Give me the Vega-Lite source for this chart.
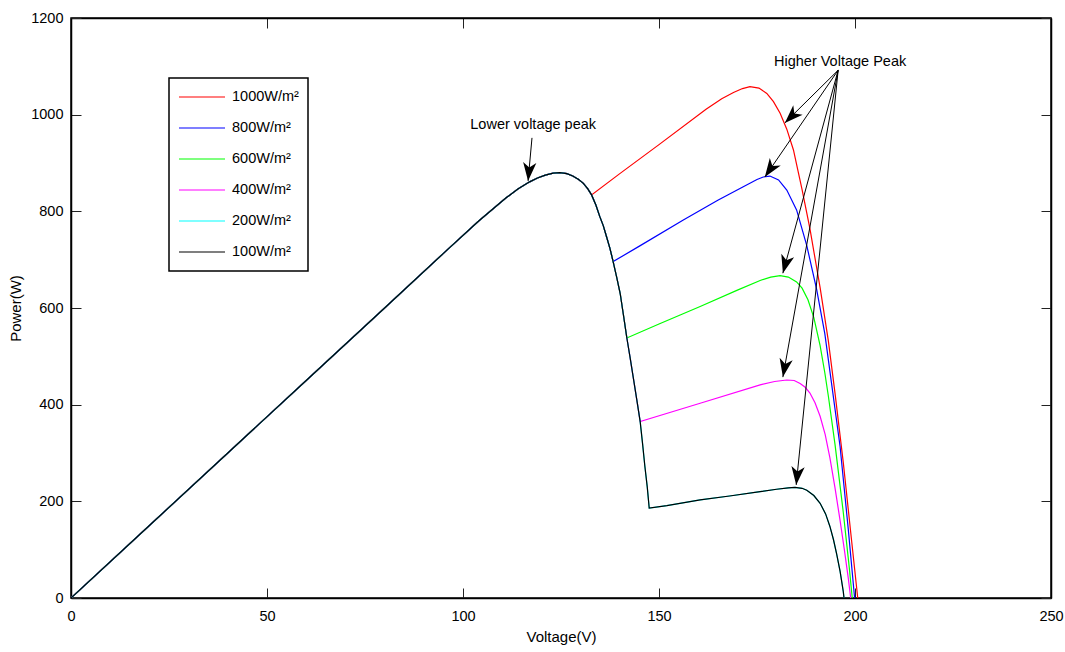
{
  "$schema": "https://vega.github.io/schema/vega-lite/v6.json",
  "width": 980,
  "height": 580,
  "autosize": {"type": "none"},
  "padding": {"left": 71, "top": 18, "right": 14, "bottom": 54},
  "background": "white",
  "config": {
    "font": "Liberation Sans",
    "view": {"stroke": "black", "strokeWidth": 1.5},
    "axis": {
      "grid": false,
      "domainColor": "black",
      "domainWidth": 1.5,
      "tickColor": "#222222",
      "tickWidth": 1,
      "tickSize": -10,
      "labelFontSize": 14.5,
      "labelColor": "black",
      "labelFlush": false,
      "titleFontSize": 15,
      "titleFontWeight": "normal",
      "titleColor": "black"
    },
    "legend": {"strokeWidth": 1.5}
  },
  "datasets": {
    "curves": [
      {"s":"1000W/m²","v":0,"p":0},{"s":"1000W/m²","v":20,"p":150},{"s":"1000W/m²","v":40,"p":300},{"s":"1000W/m²","v":60,"p":450},{"s":"1000W/m²","v":80,"p":600},{"s":"1000W/m²","v":95,"p":713},{"s":"1000W/m²","v":104,"p":780},{"s":"1000W/m²","v":111,"p":828},{"s":"1000W/m²","v":114,"p":846},{"s":"1000W/m²","v":117,"p":861},{"s":"1000W/m²","v":119,"p":869},{"s":"1000W/m²","v":121,"p":875},{"s":"1000W/m²","v":123,"p":879},{"s":"1000W/m²","v":124.7,"p":880},{"s":"1000W/m²","v":126.5,"p":878},{"s":"1000W/m²","v":128,"p":873},{"s":"1000W/m²","v":129.5,"p":866},{"s":"1000W/m²","v":130.7,"p":858},{"s":"1000W/m²","v":131.8,"p":847},{"s":"1000W/m²","v":132.8,"p":834},
      {"s":"1000W/m²","v":140,"p":878},{"s":"1000W/m²","v":150,"p":938},{"s":"1000W/m²","v":162,"p":1011},{"s":"1000W/m²","v":166,"p":1033},{"s":"1000W/m²","v":169,"p":1046},{"s":"1000W/m²","v":171.3,"p":1054},{"s":"1000W/m²","v":173.2,"p":1058},{"s":"1000W/m²","v":175.5,"p":1055},{"s":"1000W/m²","v":177.5,"p":1044},{"s":"1000W/m²","v":179.2,"p":1027},{"s":"1000W/m²","v":180.9,"p":1003},{"s":"1000W/m²","v":182.6,"p":970},{"s":"1000W/m²","v":184.3,"p":927},{"s":"1000W/m²","v":185.5,"p":882},{"s":"1000W/m²","v":186.5,"p":845},{"s":"1000W/m²","v":188.5,"p":764},{"s":"1000W/m²","v":191.1,"p":642},{"s":"1000W/m²","v":193.2,"p":532},{"s":"1000W/m²","v":194.9,"p":424},{"s":"1000W/m²","v":197,"p":281},{"s":"1000W/m²","v":199.1,"p":121},{"s":"1000W/m²","v":200.7,"p":0},

      {"s":"800W/m²","v":0,"p":0},{"s":"800W/m²","v":20,"p":150},{"s":"800W/m²","v":40,"p":300},{"s":"800W/m²","v":60,"p":450},{"s":"800W/m²","v":80,"p":600},{"s":"800W/m²","v":95,"p":713},{"s":"800W/m²","v":104,"p":780},{"s":"800W/m²","v":111,"p":828},{"s":"800W/m²","v":114,"p":846},{"s":"800W/m²","v":117,"p":861},{"s":"800W/m²","v":119,"p":869},{"s":"800W/m²","v":121,"p":875},{"s":"800W/m²","v":123,"p":879},{"s":"800W/m²","v":124.7,"p":880},{"s":"800W/m²","v":126.5,"p":878},{"s":"800W/m²","v":128,"p":873},{"s":"800W/m²","v":129.5,"p":866},{"s":"800W/m²","v":130.7,"p":858},{"s":"800W/m²","v":131.8,"p":847},{"s":"800W/m²","v":132.8,"p":834},{"s":"800W/m²","v":133.9,"p":813},{"s":"800W/m²","v":134.9,"p":789},{"s":"800W/m²","v":135.8,"p":770},{"s":"800W/m²","v":136.6,"p":748},{"s":"800W/m²","v":137.5,"p":723},{"s":"800W/m²","v":138.3,"p":696},
      {"s":"800W/m²","v":145,"p":728},{"s":"800W/m²","v":156.2,"p":782},{"s":"800W/m²","v":165,"p":823},{"s":"800W/m²","v":171.5,"p":851},{"s":"800W/m²","v":175,"p":866},{"s":"800W/m²","v":176.6,"p":871},{"s":"800W/m²","v":178.3,"p":873},{"s":"800W/m²","v":180.5,"p":865},{"s":"800W/m²","v":182.6,"p":844},{"s":"800W/m²","v":185.1,"p":803},{"s":"800W/m²","v":187.7,"p":729},{"s":"800W/m²","v":190.2,"p":639},{"s":"800W/m²","v":192.3,"p":547},{"s":"800W/m²","v":194,"p":445},{"s":"800W/m²","v":196.2,"p":313},{"s":"800W/m²","v":198.3,"p":141},{"s":"800W/m²","v":199.9,"p":0},

      {"s":"600W/m²","v":0,"p":0},{"s":"600W/m²","v":20,"p":150},{"s":"600W/m²","v":40,"p":300},{"s":"600W/m²","v":60,"p":450},{"s":"600W/m²","v":80,"p":600},{"s":"600W/m²","v":95,"p":713},{"s":"600W/m²","v":104,"p":780},{"s":"600W/m²","v":111,"p":828},{"s":"600W/m²","v":114,"p":846},{"s":"600W/m²","v":117,"p":861},{"s":"600W/m²","v":119,"p":869},{"s":"600W/m²","v":121,"p":875},{"s":"600W/m²","v":123,"p":879},{"s":"600W/m²","v":124.7,"p":880},{"s":"600W/m²","v":126.5,"p":878},{"s":"600W/m²","v":128,"p":873},{"s":"600W/m²","v":129.5,"p":866},{"s":"600W/m²","v":130.7,"p":858},{"s":"600W/m²","v":131.8,"p":847},{"s":"600W/m²","v":132.8,"p":834},{"s":"600W/m²","v":133.9,"p":813},{"s":"600W/m²","v":134.9,"p":789},{"s":"600W/m²","v":135.8,"p":770},{"s":"600W/m²","v":136.6,"p":748},{"s":"600W/m²","v":137.5,"p":723},{"s":"600W/m²","v":138.3,"p":696},{"s":"600W/m²","v":139.2,"p":664},{"s":"600W/m²","v":140.1,"p":630},{"s":"600W/m²","v":140.9,"p":587},{"s":"600W/m²","v":141.8,"p":538},
      {"s":"600W/m²","v":150,"p":567},{"s":"600W/m²","v":160.5,"p":603},{"s":"600W/m²","v":170,"p":637},{"s":"600W/m²","v":175.8,"p":657},{"s":"600W/m²","v":178.5,"p":664},{"s":"600W/m²","v":180.9,"p":667},{"s":"600W/m²","v":183,"p":664},{"s":"600W/m²","v":185.1,"p":654},{"s":"600W/m²","v":186.5,"p":641},{"s":"600W/m²","v":188,"p":617},{"s":"600W/m²","v":189.5,"p":580},{"s":"600W/m²","v":191.1,"p":522},{"s":"600W/m²","v":192.3,"p":466},{"s":"600W/m²","v":193.2,"p":418},{"s":"600W/m²","v":194.9,"p":318},{"s":"600W/m²","v":197,"p":178},{"s":"600W/m²","v":198.5,"p":66},{"s":"600W/m²","v":199.3,"p":0},

      {"s":"400W/m²","v":0,"p":0},{"s":"400W/m²","v":20,"p":150},{"s":"400W/m²","v":40,"p":300},{"s":"400W/m²","v":60,"p":450},{"s":"400W/m²","v":80,"p":600},{"s":"400W/m²","v":95,"p":713},{"s":"400W/m²","v":104,"p":780},{"s":"400W/m²","v":111,"p":828},{"s":"400W/m²","v":114,"p":846},{"s":"400W/m²","v":117,"p":861},{"s":"400W/m²","v":119,"p":869},{"s":"400W/m²","v":121,"p":875},{"s":"400W/m²","v":123,"p":879},{"s":"400W/m²","v":124.7,"p":880},{"s":"400W/m²","v":126.5,"p":878},{"s":"400W/m²","v":128,"p":873},{"s":"400W/m²","v":129.5,"p":866},{"s":"400W/m²","v":130.7,"p":858},{"s":"400W/m²","v":131.8,"p":847},{"s":"400W/m²","v":132.8,"p":834},{"s":"400W/m²","v":133.9,"p":813},{"s":"400W/m²","v":134.9,"p":789},{"s":"400W/m²","v":135.8,"p":770},{"s":"400W/m²","v":136.6,"p":748},{"s":"400W/m²","v":137.5,"p":723},{"s":"400W/m²","v":138.3,"p":696},{"s":"400W/m²","v":139.2,"p":664},{"s":"400W/m²","v":140.1,"p":630},{"s":"400W/m²","v":140.9,"p":587},{"s":"400W/m²","v":141.8,"p":538},{"s":"400W/m²","v":142.6,"p":499},{"s":"400W/m²","v":143.4,"p":458},{"s":"400W/m²","v":144.3,"p":412},{"s":"400W/m²","v":145.2,"p":365},
      {"s":"400W/m²","v":160.5,"p":403},{"s":"400W/m²","v":175.8,"p":441},{"s":"400W/m²","v":179.5,"p":448},{"s":"400W/m²","v":182.6,"p":451},{"s":"400W/m²","v":184.5,"p":450},{"s":"400W/m²","v":186,"p":444},{"s":"400W/m²","v":187.3,"p":436},{"s":"400W/m²","v":188.5,"p":424},{"s":"400W/m²","v":189.8,"p":404},{"s":"400W/m²","v":191.1,"p":376},{"s":"400W/m²","v":192.4,"p":338},{"s":"400W/m²","v":193.6,"p":290},{"s":"400W/m²","v":194.9,"p":228},{"s":"400W/m²","v":196.2,"p":160},{"s":"400W/m²","v":197.3,"p":99},{"s":"400W/m²","v":198.3,"p":40},{"s":"400W/m²","v":198.9,"p":0},

      {"s":"200W/m²","v":0,"p":0},{"s":"200W/m²","v":20,"p":150},{"s":"200W/m²","v":40,"p":300},{"s":"200W/m²","v":60,"p":450},{"s":"200W/m²","v":80,"p":600},{"s":"200W/m²","v":95,"p":713},{"s":"200W/m²","v":104,"p":780},{"s":"200W/m²","v":111,"p":828},{"s":"200W/m²","v":114,"p":846},{"s":"200W/m²","v":117,"p":861},{"s":"200W/m²","v":119,"p":869},{"s":"200W/m²","v":121,"p":875},{"s":"200W/m²","v":123,"p":879},{"s":"200W/m²","v":124.7,"p":880},{"s":"200W/m²","v":126.5,"p":878},{"s":"200W/m²","v":128,"p":873},{"s":"200W/m²","v":129.5,"p":866},{"s":"200W/m²","v":130.7,"p":858},{"s":"200W/m²","v":131.8,"p":847},{"s":"200W/m²","v":132.8,"p":834},{"s":"200W/m²","v":133.9,"p":813},{"s":"200W/m²","v":134.9,"p":789},{"s":"200W/m²","v":135.8,"p":770},{"s":"200W/m²","v":136.6,"p":748},{"s":"200W/m²","v":137.5,"p":723},{"s":"200W/m²","v":138.3,"p":696},{"s":"200W/m²","v":139.2,"p":664},{"s":"200W/m²","v":140.1,"p":630},{"s":"200W/m²","v":140.9,"p":587},{"s":"200W/m²","v":141.8,"p":538},{"s":"200W/m²","v":142.6,"p":499},{"s":"200W/m²","v":143.4,"p":458},{"s":"200W/m²","v":144.3,"p":412},{"s":"200W/m²","v":145.2,"p":365},{"s":"200W/m²","v":145.8,"p":320},{"s":"200W/m²","v":146.4,"p":272},{"s":"200W/m²","v":147,"p":230},{"s":"200W/m²","v":147.5,"p":186},
      {"s":"200W/m²","v":152,"p":191},{"s":"200W/m²","v":160.5,"p":203},{"s":"200W/m²","v":168,"p":211},{"s":"200W/m²","v":175.8,"p":220},{"s":"200W/m²","v":180,"p":225},{"s":"200W/m²","v":183,"p":228},{"s":"200W/m²","v":184.7,"p":229},{"s":"200W/m²","v":186.5,"p":227},{"s":"200W/m²","v":187.7,"p":223},{"s":"200W/m²","v":189.5,"p":212},{"s":"200W/m²","v":191.1,"p":196},{"s":"200W/m²","v":192.5,"p":174},{"s":"200W/m²","v":193.6,"p":148},{"s":"200W/m²","v":194.5,"p":121},{"s":"200W/m²","v":195.3,"p":92},{"s":"200W/m²","v":196.2,"p":55},{"s":"200W/m²","v":197,"p":14},{"s":"200W/m²","v":197.2,"p":0},

      {"s":"100W/m²","v":0,"p":0},{"s":"100W/m²","v":20,"p":150},{"s":"100W/m²","v":40,"p":300},{"s":"100W/m²","v":60,"p":450},{"s":"100W/m²","v":80,"p":600},{"s":"100W/m²","v":95,"p":713},{"s":"100W/m²","v":104,"p":780},{"s":"100W/m²","v":111,"p":828},{"s":"100W/m²","v":114,"p":846},{"s":"100W/m²","v":117,"p":861},{"s":"100W/m²","v":119,"p":869},{"s":"100W/m²","v":121,"p":875},{"s":"100W/m²","v":123,"p":879},{"s":"100W/m²","v":124.7,"p":880},{"s":"100W/m²","v":126.5,"p":878},{"s":"100W/m²","v":128,"p":873},{"s":"100W/m²","v":129.5,"p":866},{"s":"100W/m²","v":130.7,"p":858},{"s":"100W/m²","v":131.8,"p":847},{"s":"100W/m²","v":132.8,"p":834},{"s":"100W/m²","v":133.9,"p":813},{"s":"100W/m²","v":134.9,"p":789},{"s":"100W/m²","v":135.8,"p":770},{"s":"100W/m²","v":136.6,"p":748},{"s":"100W/m²","v":137.5,"p":723},{"s":"100W/m²","v":138.3,"p":696},{"s":"100W/m²","v":139.2,"p":664},{"s":"100W/m²","v":140.1,"p":630},{"s":"100W/m²","v":140.9,"p":587},{"s":"100W/m²","v":141.8,"p":538},{"s":"100W/m²","v":142.6,"p":499},{"s":"100W/m²","v":143.4,"p":458},{"s":"100W/m²","v":144.3,"p":412},{"s":"100W/m²","v":145.2,"p":365},{"s":"100W/m²","v":145.8,"p":320},{"s":"100W/m²","v":146.4,"p":272},{"s":"100W/m²","v":147,"p":230},{"s":"100W/m²","v":147.5,"p":186},
      {"s":"100W/m²","v":152,"p":191},{"s":"100W/m²","v":160.5,"p":203},{"s":"100W/m²","v":168,"p":211},{"s":"100W/m²","v":175.8,"p":220},{"s":"100W/m²","v":180,"p":225},{"s":"100W/m²","v":183,"p":228},{"s":"100W/m²","v":184.7,"p":229},{"s":"100W/m²","v":186.5,"p":227},{"s":"100W/m²","v":187.7,"p":223},{"s":"100W/m²","v":189.5,"p":212},{"s":"100W/m²","v":191.1,"p":196},{"s":"100W/m²","v":192.5,"p":174},{"s":"100W/m²","v":193.6,"p":148},{"s":"100W/m²","v":194.5,"p":121},{"s":"100W/m²","v":195.3,"p":92},{"s":"100W/m²","v":196.2,"p":55},{"s":"100W/m²","v":197,"p":14},{"s":"100W/m²","v":197.2,"p":0}
    ],
    "arrows": [
      {"x0":195.7,"y0":1092,"x1":182.1,"y1":983},
      {"x0":195.7,"y0":1092,"x1":177.0,"y1":871},
      {"x0":195.7,"y0":1092,"x1":181.6,"y1":672},
      {"x0":195.7,"y0":1092,"x1":181.6,"y1":457},
      {"x0":195.7,"y0":1092,"x1":185.0,"y1":234},
      {"x0":117.6,"y0":952,"x1":116.6,"y1":863}
    ],
    "notes": [
      {"label":"Lower voltage peak","x":117.9,"y":979},
      {"label":"Higher Voltage Peak","x":196.2,"y":1110}
    ]
  },
  "layer": [
    {
      "data": {"name": "curves"},
      "mark": {"type": "line", "clip": true},
      "encoding": {
        "x": {"field": "v", "type": "quantitative",
              "scale": {"domain": [0, 250], "nice": false},
              "axis": {"title": "Voltage(V)", "values": [0, 50, 100, 150, 200, 250], "labelPadding": 21, "titlePadding": 7}},
        "y": {"field": "p", "type": "quantitative",
              "scale": {"domain": [0, 1200], "nice": false},
              "axis": {"title": "Power(W)", "format": "d", "values": [0, 200, 400, 600, 800, 1000, 1200], "labelPadding": 18, "titlePadding": 7}},
        "color": {"field": "s", "type": "nominal",
                  "scale": {"domain": ["1000W/m²", "800W/m²", "600W/m²", "400W/m²", "200W/m²", "100W/m²"],
                            "range": ["#ff0000", "#0000ff", "#00ff00", "#ff00ff", "#00ffff", "#000000"]},
                  "legend": {"title": null, "orient": "none", "legendX": 98, "legendY": 60,
                             "symbolType": "stroke", "symbolSize": 2116, "symbolStrokeWidth": 1.3,
                             "clipHeight": 20, "rowPadding": 11, "padding": 9, "labelOffset": 6,
                             "labelFontSize": 14.5, "labelColor": "black",
                             "strokeColor": "black", "fillColor": "white"}},
        "strokeWidth": {"field": "s", "type": "nominal",
                        "scale": {"domain": ["1000W/m²", "800W/m²", "600W/m²", "400W/m²", "200W/m²", "100W/m²"],
                                  "range": [1.2, 1.2, 1.3, 1.2, 2.2, 1.1]},
                        "legend": null}
      }
    },
    {
      "data": {"name": "arrows"},
      "mark": {"type": "rule", "color": "black", "strokeWidth": 1},
      "encoding": {
        "x": {"field": "x0", "type": "quantitative",
              "axis": {"orient": "top", "labels": false, "title": null, "values": [0, 50, 100, 150, 200, 250]}},
        "y": {"field": "y0", "type": "quantitative",
              "axis": {"orient": "right", "labels": false, "title": null, "values": [0, 200, 400, 600, 800, 1000, 1200]}},
        "x2": {"field": "x1"},
        "y2": {"field": "y1"}
      }
    },
    {
      "data": {"name": "arrows"},
      "transform": [
        {"calculate": "atan2((datum.x1 - datum.x0) * 3.92, (datum.y1 - datum.y0) * 0.48333) * 180 / PI", "as": "ang"}
      ],
      "mark": {"type": "point", "shape": "M0,0L-0.72,2L0,1.45L0.72,2Z", "filled": true, "color": "black", "opacity": 1, "size": 340, "strokeWidth": 0},
      "encoding": {
        "x": {"field": "x1", "type": "quantitative", "axis": null},
        "y": {"field": "y1", "type": "quantitative", "axis": null},
        "angle": {"field": "ang", "type": "quantitative", "scale": null}
      }
    },
    {
      "data": {"name": "notes"},
      "mark": {"type": "text", "fontSize": 14.5, "color": "black", "align": "center", "baseline": "middle"},
      "encoding": {
        "x": {"field": "x", "type": "quantitative", "axis": null},
        "y": {"field": "y", "type": "quantitative", "axis": null},
        "text": {"field": "label"}
      }
    }
  ],
  "resolve": {"axis": {"x": "independent", "y": "independent"}}
}
